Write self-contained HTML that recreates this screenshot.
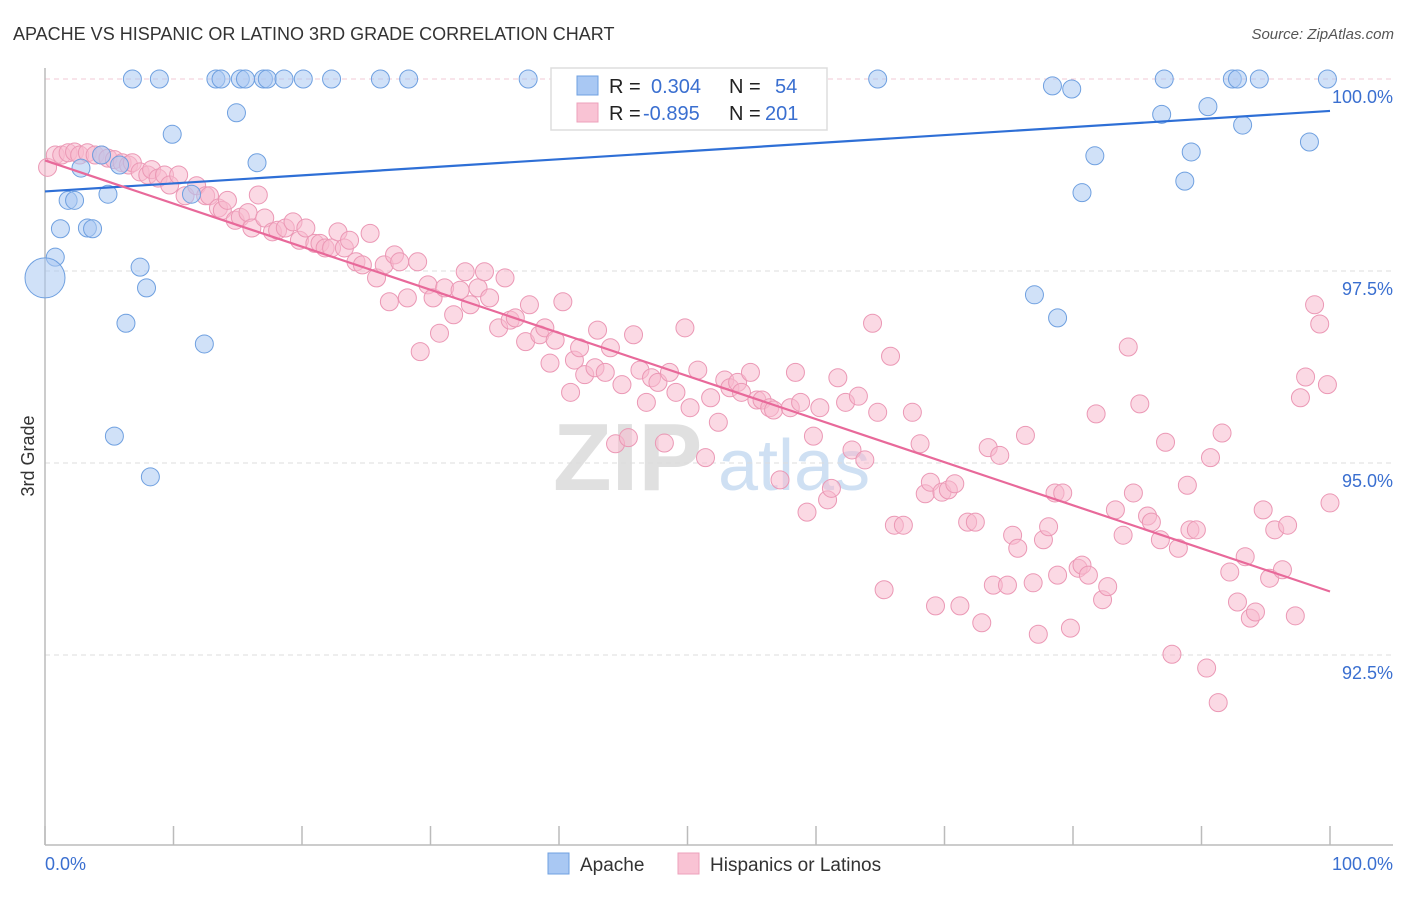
<!DOCTYPE html>
<html><head><meta charset="utf-8"><style>
body{margin:0;background:#fff;font-family:"Liberation Sans",sans-serif}
svg text{font-family:"Liberation Sans",sans-serif}
</style></head><body>
<svg id="chart" width="1406" height="892" xmlns="http://www.w3.org/2000/svg">
<text x="13" y="40" font-size="18" fill="#333">APACHE VS HISPANIC OR LATINO 3RD GRADE CORRELATION CHART</text>
<text x="1394" y="39" font-size="15" fill="#555" font-style="italic" text-anchor="end">Source: ZipAtlas.com</text>
<g>
<text x="553" y="490" font-size="96" font-family="Liberation Serif,serif" fill="#e0e0e0" font-weight="bold">ZIP</text>
<text x="718" y="490" font-size="72" fill="#cfe0f3">atlas</text>
</g>
<g id="grid"></g>
<g id="axes"></g>
<g id="pts"></g>
<g id="trend"></g>
<text transform="translate(34,456) rotate(-90)" font-size="18" fill="#333" text-anchor="middle">3rd Grade</text>
<text x="45" y="870" font-size="18" fill="#3a6fd0">0.0%</text>
<text x="1393" y="870" font-size="18" fill="#3a6fd0" text-anchor="end">100.0%</text>
<g>
<rect x="551" y="68" width="276" height="62" fill="#fff" stroke="#ddd" stroke-width="1.5"/>
<rect x="577" y="76" width="21" height="19" fill="#a9c8f3" stroke="#6fa0e0"/>
<rect x="577" y="103" width="21" height="19" fill="#f9c3d4" stroke="#eda1bb"/>
<text x="609" y="93" font-size="20" fill="#222">R =</text>
<text x="651" y="93" font-size="20" fill="#3a6fd0">0.304</text>
<text x="729" y="93" font-size="20" fill="#222">N =</text>
<text x="775" y="93" font-size="20" fill="#3a6fd0">54</text>
<text x="609" y="120" font-size="20" fill="#222">R =</text>
<text x="643" y="120" font-size="20" fill="#3a6fd0">-0.895</text>
<text x="729" y="120" font-size="20" fill="#222">N =</text>
<text x="765" y="120" font-size="20" fill="#3a6fd0">201</text>
</g>
<g>
<rect x="548" y="853" width="21" height="21" fill="#a9c8f3" stroke="#6fa0e0"/>
<text x="580" y="871" font-size="19" fill="#333">Apache</text>
</g>
<g>
<rect x="678" y="853" width="21" height="21" fill="#f9c3d4" stroke="#eda1bb"/>
<text x="710" y="871" font-size="19" fill="#333">Hispanics or Latinos</text>
</g>
</svg>
<script>
const yTicks=[100,97.5,95,92.5];
const yTickLabels=["100.0%","97.5%","95.0%","92.5%"];
const xTicks=[0,10,20,30,40,50,60,70,80,90,100];
const apacheX=[6.8,8.9,13.3,13.7,15.2,15.6,17.0,17.3,18.6,20.1,22.3,26.1,28.3,37.6,64.8,87.1,92.4,92.8,94.5,99.8,78.4,79.9,90.5,86.9,14.9,9.9,93.2,98.4,4.4,16.5,2.8,5.8,81.7,89.2,88.7,80.7,1.8,2.3,4.9,11.4,1.2,3.3,3.7,0.8,7.4,7.9,6.3,12.4,77.0,78.8,5.4,8.2,0];
const apacheY=[100,100,100,100,100,100,100,100,100,100,100,100,100,100,100,100,100,100,100,100,99.91,99.87,99.64,99.54,99.56,99.28,99.40,99.18,99.01,98.91,98.84,98.88,99.00,99.05,98.67,98.52,98.42,98.42,98.50,98.50,98.05,98.06,98.05,97.68,97.55,97.28,96.82,96.55,97.19,96.89,95.35,94.82,97.41];
const hispX=[0.2,0.8,1.3,1.8,2.3,2.7,3.3,3.9,4.4,4.9,5.4,6.0,6.5,6.8,7.4,8.0,8.3,8.8,9.3,9.7,10.4,10.9,11.8,12.5,12.8,13.5,13.8,14.2,14.8,15.2,15.8,16.1,16.6,17.1,17.7,18.1,18.7,19.3,19.8,20.3,21.0,21.4,21.8,22.3,22.8,23.3,23.7,24.2,24.7,25.3,25.8,26.4,26.8,27.2,27.6,28.2,29.0,29.2,29.8,30.2,30.7,31.1,31.8,32.3,32.7,33.1,33.7,34.2,34.6,35.3,35.8,36.2,36.6,37.4,37.7,38.5,38.9,39.3,39.7,40.3,40.9,41.2,41.6,42.0,42.8,43.0,43.6,44.0,44.4,44.9,45.4,45.8,46.3,46.8,47.2,47.7,48.2,48.6,49.1,49.8,50.2,50.8,51.4,51.8,52.4,52.9,53.3,53.9,54.2,54.9,55.4,55.8,56.4,56.7,57.2,58.0,58.4,58.8,59.3,59.8,60.3,60.9,61.2,61.7,62.3,62.8,63.3,63.8,64.4,64.8,65.3,65.8,66.1,66.8,67.5,68.1,68.5,68.9,69.3,69.8,70.3,70.8,71.2,71.8,72.4,72.9,73.4,73.8,74.3,74.9,75.3,75.7,76.3,76.9,77.3,77.7,78.1,78.6,78.8,79.2,79.8,80.4,80.7,81.2,81.8,82.3,82.7,83.3,83.9,84.3,84.7,85.2,85.8,86.1,86.8,87.2,87.7,88.2,88.9,89.1,89.6,90.4,90.7,91.3,91.6,92.2,92.8,93.4,93.8,94.2,94.8,95.3,95.7,96.3,96.7,97.3,97.7,98.1,98.8,99.2,99.8,100];
const hispY=[98.85,99.01,99.01,99.04,99.05,99.01,99.04,99.01,99.01,98.97,98.95,98.91,98.88,98.91,98.79,98.75,98.82,98.71,98.75,98.62,98.75,98.48,98.61,98.48,98.48,98.32,98.29,98.42,98.16,98.20,98.26,98.06,98.49,98.19,98.01,98.03,98.06,98.14,97.90,98.06,97.86,97.86,97.80,97.80,98.01,97.80,97.90,97.62,97.58,97.99,97.41,97.58,97.10,97.71,97.62,97.15,97.62,96.45,97.32,97.15,96.69,97.28,96.93,97.25,97.49,97.06,97.28,97.49,97.15,96.76,97.41,96.86,96.89,96.58,97.06,96.67,96.76,96.30,96.60,97.10,95.92,96.34,96.50,96.15,96.24,96.73,96.18,96.50,95.25,96.02,95.33,96.67,96.21,95.79,96.11,96.05,95.26,96.18,95.92,96.76,95.72,96.21,95.07,95.85,95.53,96.08,95.98,96.05,95.92,96.18,95.82,95.82,95.72,95.69,94.78,95.72,96.18,95.79,94.36,95.35,95.72,94.52,94.67,96.11,95.79,95.17,95.87,95.04,96.82,95.66,93.35,96.39,94.19,94.19,95.66,95.25,94.60,94.75,93.14,94.62,94.65,94.73,93.14,94.23,94.23,92.92,95.20,93.41,95.10,93.41,94.06,93.89,95.36,93.44,92.77,94.00,94.17,94.61,93.54,94.61,92.85,93.63,93.67,93.54,95.64,93.22,93.39,94.39,94.06,96.51,94.61,95.77,94.31,94.23,94.00,95.27,92.51,93.89,94.71,94.13,94.13,92.33,95.07,91.88,95.39,93.58,93.19,93.78,92.98,93.06,94.39,93.50,94.13,93.61,94.19,93.01,95.85,96.12,97.06,96.81,96.02,94.48];

const NS="http://www.w3.org/2000/svg";
const X0=45,X1=1330,YTOP=79,PXPER=76.8;
function sx(v){return X0+(X1-X0)*v/100;}
function sy(v){return YTOP+(100-v)*PXPER;}
function mk(tag,attrs,parent){const e=document.createElementNS(NS,tag);for(const k in attrs)e.setAttribute(k,attrs[k]);parent.appendChild(e);return e;}
const grid=document.getElementById('grid'),axes=document.getElementById('axes'),pts=document.getElementById('pts'),trend=document.getElementById('trend');
yTicks.forEach((t,i)=>{
  const l=mk('line',{x1:45,x2:1393,y1:sy(t),y2:sy(t),stroke:i==0?'#f0c8d6':'#dcdcdc','stroke-dasharray':'5,4','stroke-width':1},grid);
  
  
  const tx=mk('text',{x:1393,y:sy(t)+24,'font-size':18,fill:'#3a6fd0','text-anchor':'end'},grid);
  tx.textContent=yTickLabels[i];
  
  
});
let a=mk('line',{x1:45,x2:45,y1:68,y2:845,stroke:'#bbb','stroke-width':1.5},axes);


a=mk('line',{x1:45,x2:1393,y1:845,y2:845,stroke:'#bbb','stroke-width':1.5},axes);


xTicks.forEach(t=>{
  const l=mk('line',{x1:sx(t),x2:sx(t),y1:826,y2:845,stroke:'#bbb','stroke-width':1.5},axes);
  
  
});
function drawSeries(xs,ys,fill,stroke,name){
  xs.forEach((x,i)=>{
    const r=(name=='apache-point'&&x===0)?20:9;
    const c=mk('circle',{cx:sx(x),cy:sy(ys[i]),r:r,fill:fill,'fill-opacity':0.55,stroke:stroke,'stroke-width':1},pts);
    
    
  });
}
drawSeries(hispX,hispY,'#f7b9cd','#eb98b5','hispanic-point');
drawSeries(apacheX,apacheY,'#a9c8f3','#6fa0e0','apache-point');
function fit(xs,ys){const n=xs.length;let mx=0,my=0;for(let i=0;i<n;i++){mx+=xs[i];my+=ys[i];}mx/=n;my/=n;let sxy=0,sxx=0;for(let i=0;i<n;i++){sxy+=(xs[i]-mx)*(ys[i]-my);sxx+=(xs[i]-mx)**2;}const b=sxy/sxx;return [my-b*mx,b];}
function drawTrend(xs,ys,color,name){const [a0,b]=fit(xs,ys);
  const l=mk('line',{x1:sx(0),y1:sy(a0),x2:sx(100),y2:sy(a0+b*100),stroke:color,'stroke-width':2.2},trend);
  
  }
drawTrend(apacheX,apacheY,'#2e6fd6','apache-trend-line');
drawTrend(hispX,hispY,'#e8699a','hispanic-trend-line');
</script>
</body></html>
